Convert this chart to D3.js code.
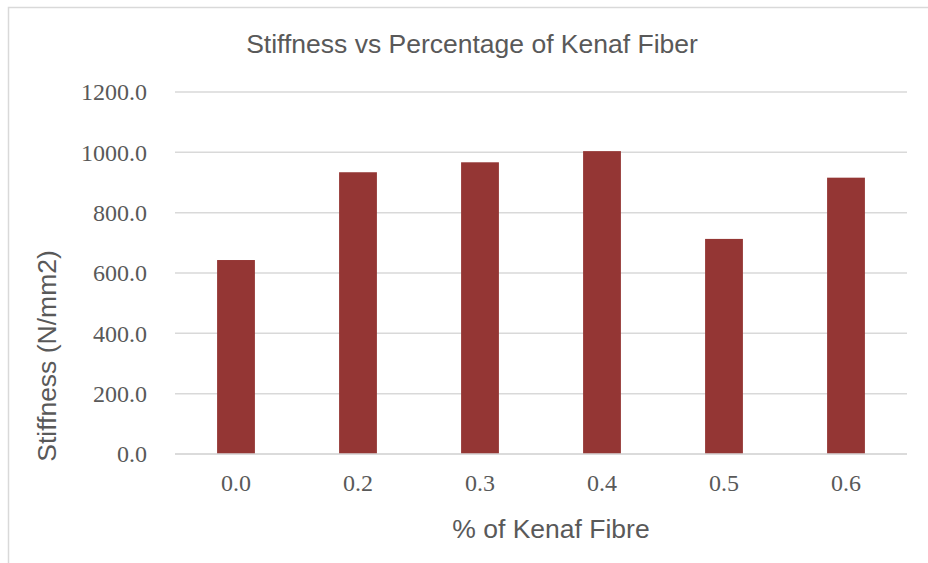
<!DOCTYPE html>
<html>
<head>
<meta charset="utf-8">
<script src="https://cdn.jsdelivr.net/npm/d3@7"></script>
<style>
  html, body { margin: 0; padding: 0; background: #fff; }
  svg { display: block; }
</style>
</head>
<body>
<svg id="chart" width="928" height="563"></svg>
<script>
// Fibre content categories and measured stiffness values
const categories = ["0.0", "0.2", "0.3", "0.4", "0.5", "0.6"];
const stiffness = [643, 934, 967, 1004, 713, 916];
const yTicks = [0, 200, 400, 600, 800, 1000, 1200];

const titleText = "Stiffness vs Percentage of Kenaf Fiber";
const xTitle = "% of Kenaf Fibre";
const yTitle = "Stiffness (N/mm2)";

const svg = d3.select("#chart");
const plot = { left: 175, right: 907, top: 92, bottom: 454 };
const sansFont = "'Liberation Sans', Arial, sans-serif";
const serifFont = "'Liberation Serif', 'Times New Roman', serif";
const textColor = "#595959";

// Chart frame
svg.append("rect")
  .attr("x", 8.5).attr("y", 7.5)
  .attr("width", 960).attr("height", 600)
  .attr("fill", "none")
  .attr("stroke", "#d9d9d9")
  .attr("stroke-width", 1.5);

const x = d3.scaleBand()
  .domain(categories)
  .range([plot.left, plot.right])
  .paddingInner(0.69)
  .paddingOuter(0.345);

const y = d3.scaleLinear()
  .domain([0, 1200])
  .range([plot.bottom, plot.top]);

// Horizontal gridlines
svg.append("g")
  .selectAll("line")
  .data(yTicks)
  .join("line")
  .attr("x1", plot.left).attr("x2", plot.right)
  .attr("y1", d => y(d)).attr("y2", d => y(d))
  .attr("stroke", "#d9d9d9")
  .attr("stroke-width", 1.5);

// Y axis labels
const yAxis = d3.axisLeft(y)
  .tickValues(yTicks)
  .tickFormat(d3.format(".1f"))
  .tickSize(0)
  .tickPadding(0);
const yg = svg.append("g")
  .attr("transform", `translate(147,0)`)
  .call(yAxis);
yg.select(".domain").remove();
yg.selectAll("text")
  .attr("font-family", serifFont)
  .attr("font-size", 24)
  .attr("fill", textColor);

// Bars
svg.append("g")
  .selectAll("rect")
  .data(stiffness)
  .join("rect")
  .attr("x", (d, i) => x(categories[i]))
  .attr("y", d => y(d))
  .attr("width", x.bandwidth())
  .attr("height", d => y(0) - y(d))
  .attr("fill", "#943634");

// X axis labels
const xAxis = d3.axisBottom(x).tickSize(0).tickPadding(0);
const xg = svg.append("g")
  .attr("transform", `translate(0,${plot.bottom + 20})`)
  .call(xAxis);
xg.select(".domain").remove();
xg.selectAll("text")
  .attr("font-family", serifFont)
  .attr("font-size", 24)
  .attr("fill", textColor);

// Baseline
svg.append("line")
  .attr("x1", plot.left).attr("x2", plot.right)
  .attr("y1", y(0)).attr("y2", y(0))
  .attr("stroke", "#d9d9d9")
  .attr("stroke-width", 1.5);

// Title
svg.append("text")
  .attr("x", 472).attr("y", 53)
  .attr("text-anchor", "middle")
  .attr("font-family", sansFont)
  .attr("font-size", 26.5)
  .attr("fill", textColor)
  .text(titleText);

// Axis titles
svg.append("text")
  .attr("x", 551).attr("y", 538)
  .attr("text-anchor", "middle")
  .attr("font-family", sansFont)
  .attr("font-size", 26.5)
  .attr("fill", textColor)
  .text(xTitle);

svg.append("text")
  .attr("transform", "translate(56,356) rotate(-90)")
  .attr("text-anchor", "middle")
  .attr("font-family", sansFont)
  .attr("font-size", 26.5)
  .attr("fill", textColor)
  .text(yTitle);
</script>
</body>
</html>
